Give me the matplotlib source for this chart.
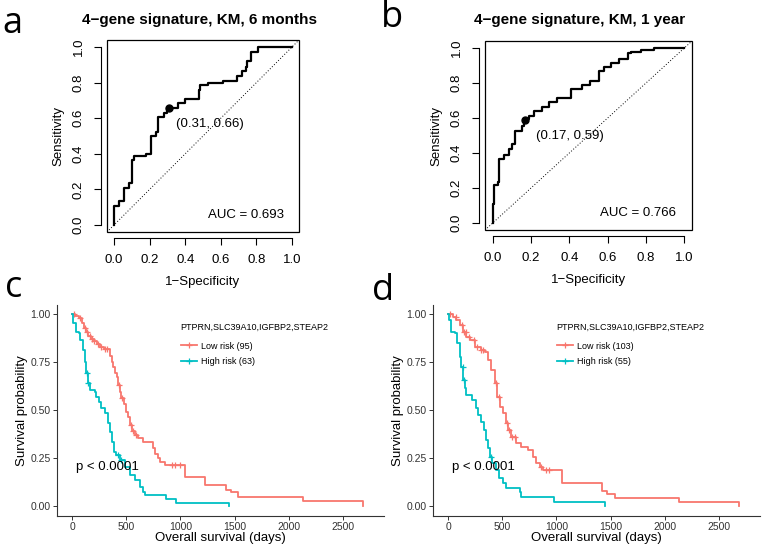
import numpy as np
import matplotlib
matplotlib.use("Agg")
import matplotlib.pyplot as plt
from matplotlib.lines import Line2D
from matplotlib.patches import Rectangle

plt.rcParams['font.family'] = ['Liberation Sans', 'DejaVu Sans']

W, H = 762, 546

# ROC curves (corner points, drawn as steps)
roc_a_fpr = [0.0, 0.0, 0.026, 0.055, 0.083, 0.103, 0.113, 0.177, 0.205, 0.235, 0.248, 0.28, 0.30,
             0.36, 0.40, 0.475, 0.485, 0.53, 0.61, 0.69, 0.72, 0.74, 0.75, 0.77, 0.81, 1.0]
roc_a_tpr = [0.0, 0.107, 0.135, 0.21, 0.237, 0.363, 0.39, 0.40, 0.50, 0.525, 0.605, 0.63, 0.66,
             0.685, 0.708, 0.76, 0.785, 0.80, 0.81, 0.84, 0.865, 0.89, 0.92, 0.975, 1.0, 1.0]
roc_b_fpr = [0.0, 0.0, 0.009, 0.026, 0.035, 0.061, 0.084, 0.10, 0.119, 0.154, 0.166, 0.19, 0.218,
             0.258, 0.293, 0.337, 0.41, 0.468, 0.51, 0.555, 0.58, 0.616, 0.66, 0.707, 0.72, 0.773,
             0.843, 0.97, 1.0]
roc_b_tpr = [0.0, 0.106, 0.22, 0.233, 0.366, 0.39, 0.422, 0.45, 0.527, 0.557, 0.593, 0.61, 0.64,
             0.663, 0.69, 0.714, 0.763, 0.786, 0.814, 0.866, 0.89, 0.913, 0.9375, 0.97, 0.975, 0.99,
             0.998, 1.0, 1.0]
roc_titles = ["4\u2212gene signature, KM, 6 months", "4\u2212gene signature, KM, 1 year"]
roc_best = [(0.31, 0.66), (0.17, 0.59)]
roc_auc = ["AUC = 0.693", "AUC = 0.766"]

# Kaplan-Meier curves (time in days, survival after each step)
c_low_t = [0, 30, 60, 90, 110, 130, 150, 175, 200, 230, 260, 290, 345, 365, 380, 395, 410, 425,
           440, 455, 475, 495, 515, 535, 555, 580, 610, 650, 750, 765, 790, 810, 860, 1040, 1230,
           1420, 1470, 1530, 2130, 2690]
c_low_s = [1.0, 0.99, 0.975, 0.95, 0.925, 0.905, 0.885, 0.87, 0.86, 0.84, 0.825, 0.815, 0.78,
           0.75, 0.72, 0.69, 0.67, 0.63, 0.59, 0.56, 0.53, 0.49, 0.46, 0.42, 0.39, 0.37, 0.35,
           0.33, 0.30, 0.27, 0.25, 0.225, 0.21, 0.15, 0.11, 0.08, 0.07, 0.045, 0.022, 0.0]
c_high_t = [0, 12, 31, 62, 77, 99, 114, 130, 145, 167, 207, 222, 247, 268, 299, 330, 352, 370,
            386, 407, 438, 485, 531, 577, 623, 654, 670, 870, 963, 1450]
c_high_s = [1.0, 0.95, 0.906, 0.898, 0.863, 0.81, 0.75, 0.69, 0.637, 0.602, 0.594, 0.568, 0.542,
            0.507, 0.48, 0.429, 0.385, 0.333, 0.281, 0.264, 0.238, 0.203, 0.16, 0.134, 0.099,
            0.073, 0.056, 0.033, 0.016, 0.0]
c_low_cens = [20, 70, 120, 140, 165, 185, 205, 235, 270, 300, 320, 430, 460, 540, 560, 590, 920,
              950, 1000]
c_high_cens = [135, 150, 420, 450]

d_low_t = [0, 43, 74, 105, 136, 167, 198, 244, 300, 336, 367, 398, 429, 451, 481, 506, 537, 552,
           583, 630, 676, 738, 784, 815, 846, 876, 1050, 1420, 1470, 1540, 2130, 2690]
d_low_s = [1.0, 0.984, 0.967, 0.94, 0.906, 0.88, 0.863, 0.828, 0.81, 0.80, 0.76, 0.707, 0.637,
           0.568, 0.516, 0.48, 0.43, 0.394, 0.36, 0.325, 0.307, 0.29, 0.255, 0.22, 0.203, 0.186,
           0.12, 0.075, 0.06, 0.04, 0.018, 0.0]
d_high_t = [0, 12, 22, 59, 80, 105, 120, 136, 151, 167, 222, 253, 278, 300, 330, 352, 367, 383,
            401, 444, 469, 506, 537, 660, 676, 978, 1447]
d_high_s = [1.0, 0.967, 0.906, 0.898, 0.845, 0.776, 0.724, 0.655, 0.611, 0.576, 0.55, 0.507,
            0.472, 0.4375, 0.394, 0.342, 0.30, 0.255, 0.22, 0.186, 0.142, 0.116, 0.09, 0.073,
            0.047, 0.021, 0.0]
d_low_cens = [20, 70, 125, 145, 165, 190, 240, 270, 300, 320, 440, 470, 540, 560, 590, 620, 860,
              900, 930]
d_high_cens = [135, 150, 400]

km_labels_c = ["Low risk (95)", "High risk (63)"]
km_labels_d = ["Low risk (103)", "High risk (55)"]
legend_title = "PTPRN,SLC39A10,IGFBP2,STEAP2"
red, cyan = "#F8766D", "#00BFC4"

fig = plt.figure(figsize=(W / 100, H / 100), dpi=100)


def px_axes(left, top, right, bottom):
    return fig.add_axes([left / W, 1 - bottom / H, (right - left) / W, (bottom - top) / H])


def roc_panel(box, fpr, tpr, title, best, auc, title_x, lab_off):
    ax = px_axes(*box)
    ax.set_xlim(-0.04, 1.04)
    ax.set_ylim(-0.04, 1.04)
    ax.plot([-0.04, 1.04], [-0.04, 1.04], ls=(0, (1, 2)), color="black", lw=0.7)
    ax.plot(fpr, tpr, drawstyle="steps-post", color="black", lw=1.6)
    ax.plot(*best, "o", color="black", ms=5)
    ax.annotate("(%.2f, %.2f)" % best, best, xytext=lab_off, textcoords="offset points",
                fontsize=9.5, va="center", ha="left")
    ax.text(0.955, 0.055, auc, fontsize=9.5, ha="right", va="center")
    ax.add_patch(Rectangle((0, 0), 1, 1, transform=ax.transAxes, fill=False, lw=0.9,
                           clip_on=False))
    for s in ["top", "right"]:
        ax.spines[s].set_visible(False)
    for s in ["left", "bottom"]:
        ax.spines[s].set_position(("outward", 4))
        ax.spines[s].set_bounds(0, 1)
        ax.spines[s].set_linewidth(0.8)
    ticks = [0, 0.2, 0.4, 0.6, 0.8, 1.0]
    ax.set_xticks(ticks)
    ax.set_yticks(ticks)
    ax.set_xticklabels(["%.1f" % t for t in ticks], fontsize=9.5)
    ax.set_yticklabels(["%.1f" % t for t in ticks], fontsize=9.5, rotation=90, va="center")
    ax.tick_params(length=5, width=0.8, pad=7)
    ax.set_xlabel("1\u2212Specificity", fontsize=9.5, labelpad=7)
    ax.set_ylabel("Sensitivity", fontsize=9.5, labelpad=6)
    fig.text(title_x / W, 1 - 20 / H, title, fontsize=11, fontweight="bold", ha="center",
             va="center")
    return ax


def step_at(t, s, x):
    idx = np.searchsorted(t, x, side="right") - 1
    return np.asarray(s)[idx]


def km_panel(box, curves, labels):
    ax = px_axes(*box)
    for (t, s, cens), col in zip(curves, [red, cyan]):
        ax.plot(t, s, drawstyle="steps-post", color=col, lw=1.3)
        ax.plot(cens, step_at(t, s, cens), "+", color=col, ms=5, mew=0.9)
    ax.set_xlim(-140, 2880)
    ax.set_ylim(-0.054, 1.045)
    ax.set_xticks([0, 500, 1000, 1500, 2000, 2500])
    ax.set_yticks([0, 0.25, 0.5, 0.75, 1.0])
    ax.set_yticklabels(["0.00", "0.25", "0.50", "0.75", "1.00"])
    for s in ["top", "right"]:
        ax.spines[s].set_visible(False)
    for s in ["left", "bottom"]:
        ax.spines[s].set_linewidth(0.8)
        ax.spines[s].set_color("#333333")
    ax.tick_params(labelsize=7.5, length=3, width=0.7, colors="#333333", labelcolor="#333333",
                   pad=1.5)
    ax.set_xlabel("Overall survival (days)", fontsize=9.5, labelpad=0)
    ax.set_ylabel("Survival probability", fontsize=9.5, labelpad=2)
    ax.text(40, 0.2, "p < 0.0001", fontsize=9.5, ha="left", va="center")
    handles = [Line2D([], [], color=c, lw=1.3, marker="+", ms=5, mew=0.9) for c in [red, cyan]]
    leg = ax.legend(handles, labels, title=legend_title, loc="upper left",
                    bbox_to_anchor=(0.378, 0.915), frameon=False, fontsize=6.5,
                    title_fontsize=6.5, handlelength=1.8, handletextpad=0.5, labelspacing=0.75,
                    borderaxespad=0, borderpad=0)
    leg._legend_box.align = "left"
    leg._legend_box.sep = 7
    return ax


roc_panel((107, 40, 299, 232), roc_a_fpr, roc_a_tpr, roc_titles[0], roc_best[0], roc_auc[0],
          200, (5, -12))
roc_panel((485, 41, 692, 230), roc_b_fpr, roc_b_tpr, roc_titles[1], roc_best[1], roc_auc[1],
          580, (8, -12))
km_panel((57, 305, 384, 516),
         [(c_low_t, c_low_s, c_low_cens), (c_high_t, c_high_s, c_high_cens)], km_labels_c)
km_panel((433, 305, 760, 516),
         [(d_low_t, d_low_s, d_low_cens), (d_high_t, d_high_s, d_high_cens)], km_labels_d)

for letter, x, y in [("a", 2, 33), ("b", 381, 27), ("c", 5, 297), ("d", 372, 300)]:
    fig.text(x / W, 1 - y / H, letter, fontsize=26, family="Open Sans", ha="left",
             va="baseline")

fig.savefig("out.png", dpi=100)
